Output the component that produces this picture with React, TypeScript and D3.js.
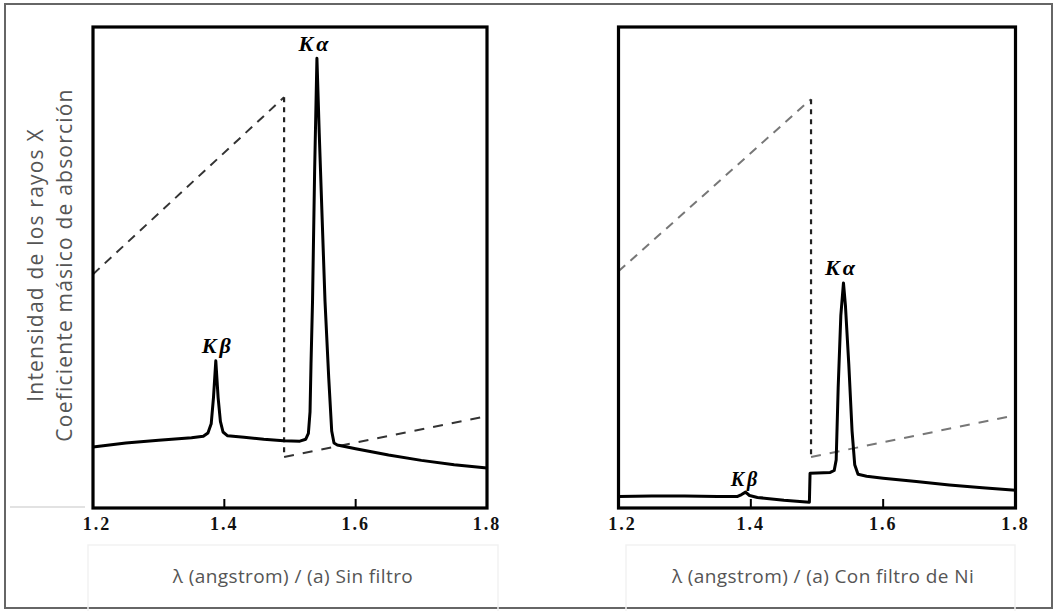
import React from "react";
import * as d3 from "d3";

// ---- data ----
const lambdaTicks = [1.2, 1.4, 1.6, 1.8];
const tickLabels = ["1.2", "1.4", "1.6", "1.8"];

// (a) Sin filtro – emitted spectrum
const sinFiltroLambda = [
  1.2, 1.25, 1.3, 1.35, 1.368, 1.375, 1.38, 1.3835, 1.387, 1.3905, 1.394, 1.398,
  1.405, 1.43, 1.46, 1.49, 1.515, 1.524, 1.528, 1.5305, 1.532, 1.5343, 1.5375,
  1.541, 1.5445, 1.549, 1.5533, 1.559, 1.5635, 1.567, 1.572, 1.6, 1.65, 1.7,
  1.75, 1.8,
];
const sinFiltroIntensity = [
  12.7, 13.5, 14.1, 14.6, 14.9, 15.6, 17.5, 23, 30.6, 23, 18, 15.8, 15.0, 14.7,
  14.3, 14.0, 13.9, 14.3, 15.5, 20, 30, 43, 70, 93.5, 78, 60, 43, 27, 16, 13.5,
  13.1, 12.3, 11.0, 9.9, 9.0, 8.3,
];

// (b) Con filtro de Ni – transmitted spectrum
const conFiltroLambda = [
  1.2, 1.25, 1.3, 1.35, 1.38, 1.386, 1.392, 1.398, 1.41, 1.45, 1.4885, 1.4895,
  1.5, 1.52, 1.526, 1.529, 1.532, 1.536, 1.54, 1.543, 1.548, 1.553, 1.557,
  1.562, 1.575, 1.6, 1.65, 1.7, 1.75, 1.8,
];
const conFiltroIntensity = [
  2.4, 2.5, 2.5, 2.4, 2.4, 2.8, 3.3, 2.6, 2.2, 1.6, 1.2, 7.2, 7.3, 7.4, 7.8, 10,
  25, 40, 46.8, 42, 30, 16, 9, 7.0, 6.6, 6.2, 5.5, 4.8, 4.2, 3.7,
];

// Ni mass absorption coefficient (dashed)
const absorcionLambda = [1.2, 1.491, 1.491, 1.8];
const absorcionSin = [48.6, 85.4, 10.6, 19.1];
const absorcionCon = [49.2, 85.0, 10.6, 19.3];

const panelTitles = ["λ (angstrom) / (a) Sin filtro", "λ (angstrom) / (a) Con filtro de Ni"];
const yTitleLines = ["Intensidad de los rayos X", "Coeficiente másico de absorción"];

type Pt = [number, number];
const zip = (a: number[], b: number[]): Pt[] => a.map((v, i) => [v, b[i]]);

const TOP = 27;
const BOTTOM = 508;

interface PanelProps {
  x0: number;
  x1: number;
  solid: Pt[];
  dashed: Pt[];
  title: string;
  titleX: number;
  ka: { l: number; v: number; size: number };
  kb: { l: number; v: number; size: number };
  box: [number, number];
  diagColor: string;
}

function Panel({ x0, x1, solid, dashed, title, titleX, ka, kb, box, diagColor }: PanelProps) {
  const x = d3.scaleLinear().domain([1.2, 1.8]).range([x0, x1]);
  const y = d3.scaleLinear().domain([0, 100]).range([BOTTOM, TOP]);
  const line = d3
    .line<Pt>()
    .x((d) => x(d[0]))
    .y((d) => y(d[1]))
    .curve(d3.curveLinear);
  const upper = dashed.slice(0, 2);
  const vert = dashed.slice(1, 3);
  const lower = dashed.slice(2, 4);
  const kStyle = {
    fontFamily: "'Liberation Serif', serif",
    fontWeight: "bold" as const,
    fontStyle: "italic" as const,
    fill: "#000",
  };
  return (
    <g>
      {/* faint label box */}
      <rect x={box[0]} y={545} width={box[1] - box[0]} height={70} fill="none" stroke="#f2f2f2" strokeWidth={1.5} />
      {/* dashed absorption */}
      <path d={line(upper) || ""} fill="none" stroke={diagColor} strokeWidth={2} strokeDasharray="9 7" />
      <path d={line(vert) || ""} fill="none" stroke="#222" strokeWidth={2.2} strokeDasharray="5 5" />
      <path d={line(lower) || ""} fill="none" stroke={diagColor} strokeWidth={2} strokeDasharray="10 9" />
      {/* spectrum */}
      <path d={line(solid) || ""} fill="none" stroke="#000" strokeWidth={3} strokeLinejoin="round" />
      {/* frame */}
      <rect x={x0} y={TOP} width={x1 - x0} height={BOTTOM - TOP} fill="none" stroke="#000" strokeWidth={3.2} />
      {/* ticks */}
      {lambdaTicks.slice(1, 3).map((t) => (
        <line key={t} x1={x(t)} x2={x(t)} y1={BOTTOM} y2={BOTTOM - 9} stroke="#000" strokeWidth={2} />
      ))}
      {lambdaTicks.map((t, i) => (
        <text
          key={"l" + t}
          x={x(t) + (i === 0 ? 4 : 0)}
          y={530}
          textAnchor="middle"
          fontFamily="'Liberation Serif', serif"
          fontWeight="bold"
          fontSize={18}
          letterSpacing={2}
          fill="#111"
        >
          {tickLabels[i]}
        </text>
      ))}
      <text x={x(ka.l)} y={y(ka.v)} textAnchor="middle" fontSize={ka.size} letterSpacing={3} {...kStyle}>
        Kα
      </text>
      <text x={x(kb.l)} y={y(kb.v)} textAnchor="middle" fontSize={kb.size} letterSpacing={3} {...kStyle}>
        Kβ
      </text>
      <text x={titleX} y={583} textAnchor="middle" fontFamily="'Open Sans', sans-serif" fontSize={19} letterSpacing={0.4} fill="#555">
        {title}
      </text>
    </g>
  );
}

export default function App() {
  return (
    <svg width={1055} height={611} style={{ position: "absolute", left: 0, top: 0, background: "#fff" }}>
      <rect x={0} y={0} width={1055} height={611} fill="#fff" />
      <rect x={5} y={4} width={1047} height={604} fill="none" stroke="#666" strokeWidth={2} />
      <line x1={10} x2={85} y1={507} y2={507} stroke="#e2e2e2" strokeWidth={2} />
      <Panel
        x0={93}
        x1={487}
        solid={zip(sinFiltroLambda, sinFiltroIntensity)}
        dashed={zip(absorcionLambda, absorcionSin)}
        title={panelTitles[0]}
        titleX={293}
        ka={{ l: 1.538, v: 95.0, size: 22 }}
        kb={{ l: 1.39, v: 32.3, size: 22 }}
        box={[88, 498]}
        diagColor="#333"
      />
      <Panel
        x0={618.5}
        x1={1015.5}
        solid={zip(conFiltroLambda, conFiltroIntensity)}
        dashed={zip(absorcionLambda, absorcionCon)}
        title={panelTitles[1]}
        titleX={823}
        ka={{ l: 1.537, v: 48.4, size: 22 }}
        kb={{ l: 1.392, v: 4.6, size: 20 }}
        box={[626, 1015]}
        diagColor="#777"
      />
      {yTitleLines.map((t, i) => (
        <text
          key={t}
          transform={`translate(${43 + i * 29},265) rotate(-90)`}
          textAnchor="middle"
          fontFamily="'Open Sans', sans-serif"
          fontSize={21}
          letterSpacing={1.2}
          fill="#555"
        >
          {t}
        </text>
      ))}
    </svg>
  );
}
